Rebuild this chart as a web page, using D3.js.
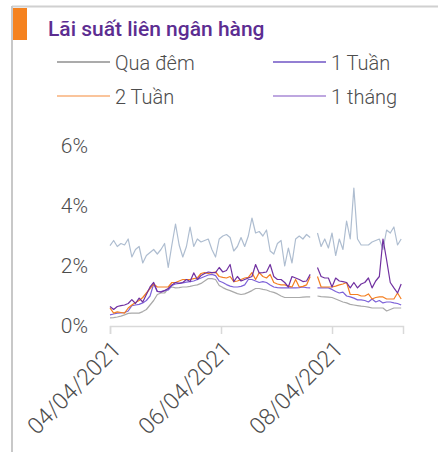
<!DOCTYPE html>
<html>
<head>
<meta charset="utf-8">
<script src="https://cdn.jsdelivr.net/npm/d3@7"></script>
<style>
  html, body { margin: 0; padding: 0; background: #fff; }
  svg { display: block; font-family: Roboto, "Noto Sans", sans-serif; }
</style>
</head>
<body>
<div id="chart"></div>
<script>
// sampled every 2 days from 04/04/2021, null = no data
const startDate = new Date(2021, 3, 4);
const dates = d3.range(81).map(i => d3.timeDay.offset(startDate, 2 * i));

const quaDem = [2.68, 2.85, 2.65, 2.75, 2.7, 2.9, 2.3, 2.55, 2.65, 2.1, 2.35, 2.45, 2.55, 2.4, 2.55, 2.75, 1.95, 2.7, 3.4, 2.7,
  2.3, 2.65, 3.3, 2.65, 2.9, 2.8, 2.85, 2.9, 2.55, 2.3, 2.9, 3.0, 3.05, 2.95, 2.5, 2.65, 2.95, 2.65, 3.0, 3.6,
  3.1, 3.15, 3.0, 3.2, 2.5, 2.4, 2.75, 2.85, 2.0, 2.6, 2.1, 2.9, 3.0, 2.9, 3.05, 2.95, null, 3.1, 2.65, 2.9,
  2.6, 3.1, 2.35, 2.9, 2.55, 3.5, 2.9, 4.6, 2.9, 2.7, 2.7, 2.7, 2.8, 2.85, 2.9, 2.55, 3.2, 3.1, 3.3, 2.7, 2.9];

const motThang = [0.65, 0.55, 0.65, 0.68, 0.7, 0.75, 0.88, 0.75, 0.93, 0.8, 1.05, 1.3, 1.45, 1.15, 1.13, 1.18, 1.25, 1.37, 1.45, 1.42,
  1.45, 1.55, 1.48, 1.77, 1.55, 1.68, 1.75, 1.8, 1.78, 1.78, 1.95, 1.8, 1.85, 2.05, 1.48, 1.65, 1.5, 1.55, 1.6, 1.65,
  2.05, 1.77, 1.78, 1.8, 2.05, 1.65, 1.55, 1.55, 1.45, 1.3, 1.65, 1.6, 1.55, 1.48, 1.5, 1.72, null, 1.95, 1.65, 1.6,
  1.6, 1.3, 1.6, 1.5, 1.48, 1.45, 1.27, 1.45, 1.27, 1.4, 1.45, 1.6, 1.27, 1.5, 1.65, 2.9, 2.2, 1.45, 1.27, 1.1, 1.4];

const haiTuan = [0.6, 0.43, 0.47, 0.45, 0.43, 0.6, 0.7, 0.78, 0.85, 0.95, 1.1, 1.25, 1.4, 1.3, 1.3, 1.3, 1.3, 1.45, 1.45, 1.5,
  1.55, 1.55, 1.55, 1.58, 1.6, 1.75, 1.78, 1.75, 1.78, 1.8, 1.65, 1.62, 1.6, 1.65, 1.48, 1.5, 1.55, 1.6, 1.62, 1.78,
  1.55, 1.78, 1.65, 1.6, 1.72, 1.45, 1.4, 1.37, 1.37, 1.33, 1.3, 1.55, 1.3, 1.32, 1.37, 1.65, null, 1.65, 1.3, 1.3,
  1.3, 1.3, 1.33, 1.37, 1.4, 1.45, 1.05, 1.05, 1.05, 1.0, 1.0, 1.07, 0.9, 0.95, 0.97, 0.97, 0.9, 0.9, 0.9, 1.1, 0.9];

const motTuan = [0.37, 0.4, 0.43, 0.44, 0.45, 0.5, 0.68, 0.7, 0.72, 0.77, 0.85, 1.0, 1.4, 1.15, 1.15, 1.18, 1.2, 1.35, 1.4, 1.42,
  1.44, 1.46, 1.48, 1.5, 1.55, 1.6, 1.65, 1.7, 1.72, 1.68, 1.5, 1.45, 1.38, 1.33, 1.3, 1.3, 1.32, 1.37, 1.55, 1.55,
  1.5, 1.45, 1.48, 1.45, 1.37, 1.3, 1.28, 1.27, 1.27, 1.27, 1.27, 1.27, 1.28, 1.3, 1.28, 1.27, null, 1.27, 1.27, 1.27,
  1.27, 1.22, 1.15, 1.1, 1.13, 1.0, 0.97, 0.93, 0.87, 0.87, 0.85, 0.8, 0.9, 0.8, 0.85, 0.77, 0.8, 0.8, 0.77, 0.75, 0.7];

const baThang = [0.27, 0.28, 0.3, 0.33, 0.37, 0.42, 0.43, 0.43, 0.43, 0.48, 0.55, 0.7, 0.85, 1.05, 1.1, 1.1, 1.25, 1.3, 1.27, 1.28,
  1.3, 1.3, 1.32, 1.35, 1.37, 1.42, 1.5, 1.58, 1.58, 1.55, 1.35, 1.28, 1.22, 1.18, 1.13, 1.08, 1.05, 1.07, 1.12, 1.18,
  1.25, 1.25, 1.22, 1.2, 1.15, 1.12, 1.07, 1.0, 0.95, 0.95, 0.95, 0.95, 0.95, 0.96, 0.97, 0.97, null, 1.0, 0.98, 0.97,
  0.96, 0.95, 0.9, 0.85, 0.8, 0.77, 0.72, 0.7, 0.68, 0.66, 0.65, 0.63, 0.6, 0.6, 0.6, 0.6, 0.5, 0.55, 0.6, 0.6, 0.6];

const yTicks = [0, 2, 4, 6];
const xTickLabels = ["04/04/2021", "06/04/2021", "08/04/2021"];

const legendItems = [
  { name: "Qua đêm", color: "#8f8f8f" },
  { name: "1 Tuần", color: "#6f55c5" },
  { name: "2 Tuần", color: "#f9b07a" },
  { name: "1 tháng", color: "#a98ad6" }
];

const SERIES = [
  { values: quaDem, color: "#aebdd0" },
  { values: baThang, color: "#a9a9a9" },
  { values: motTuan, color: "#7d62d8" },
  { values: haiTuan, color: "#f47f20" },
  { values: motThang, color: "#7030a0" }
];

const WIDTH = 438;
const HEIGHT = 452;

const svg = d3.select("#chart").append("svg")
  .attr("width", WIDTH)
  .attr("height", HEIGHT);

// frame
svg.append("line").attr("x1", 12).attr("x2", WIDTH).attr("y1", 6.5).attr("y2", 6.5)
  .attr("stroke", "#d0d0d0").attr("stroke-width", 2);
svg.append("line").attr("x1", 12).attr("x2", 12).attr("y1", 6).attr("y2", HEIGHT)
  .attr("stroke", "#c8c8c8").attr("stroke-width", 2);
svg.append("rect").attr("x", 13).attr("y", 8).attr("width", 14).attr("height", 32)
  .attr("fill", "#f5821f");

svg.append("text")
  .attr("x", 48).attr("y", 36)
  .attr("fill", "#5c2d91")
  .attr("font-size", 21)
  .attr("font-weight", 500)
  .text("Lãi suất liên ngân hàng");

// legend
const legend = svg.append("g").selectAll("g")
  .data(legendItems)
  .join("g")
  .attr("transform", (d, i) => `translate(${i % 2 === 0 ? 57 : 273},${i < 2 ? 62 : 96})`);

legend.append("line")
  .attr("x1", 0).attr("x2", 53)
  .attr("stroke", d => d.color)
  .attr("stroke-width", 1.5);

legend.append("text")
  .attr("x", 58).attr("y", 8)
  .attr("font-size", 20)
  .attr("font-weight", 300)
  .attr("fill", "#4d4d4d")
  .text(d => d.name);

// scales
const x = d3.scaleTime()
  .domain([startDate, new Date(2021, 8, 12)])
  .range([110, 403]);

const y = d3.scaleLinear()
  .domain([0, 6])
  .range([326, 146]);

const parseTick = d3.timeParse("%m/%d/%Y");

const xAxis = svg.append("g")
  .attr("transform", `translate(0,${y(0)})`)
  .call(d3.axisBottom(x)
    .tickValues(xTickLabels.map(parseTick))
    .tickFormat(d3.timeFormat("%m/%d/%Y"))
    .tickSize(8)
    .tickSizeOuter(8));

xAxis.select(".domain").attr("stroke", "#d9d9d9").attr("stroke-width", 1.5);
xAxis.selectAll(".tick line").attr("stroke", "#d9d9d9").attr("stroke-width", 1.5);
xAxis.selectAll(".tick text")
  .attr("font-size", 23)
  .attr("font-weight", 300)
  .attr("font-family", "Roboto, sans-serif")
  .attr("fill", "#4d4d4d")
  .attr("text-anchor", "end")
  .attr("transform", "translate(6,19) rotate(-45)")
  .attr("dy", "0.35em")
  .attr("y", 0);

const yAxis = svg.append("g")
  .attr("transform", "translate(88,0)")
  .call(d3.axisLeft(y)
    .tickValues(yTicks)
    .tickFormat(d => d + "%")
    .tickSize(0));

yAxis.select(".domain").remove();
yAxis.selectAll(".tick text")
  .attr("font-size", 21)
  .attr("font-weight", 300)
  .attr("font-family", "Roboto, sans-serif")
  .attr("fill", "#4d4d4d")
  .attr("x", 0);

// lines
const line = d3.line()
  .defined(d => d[1] != null)
  .x(d => x(d[0]))
  .y(d => y(d[1]));

svg.append("g")
  .selectAll("path")
  .data(SERIES)
  .join("path")
  .attr("fill", "none")
  .attr("stroke", d => d.color)
  .attr("stroke-width", 1.2)
  .attr("stroke-linejoin", "round")
  .attr("d", d => line(dates.map((dt, i) => [dt, d.values[i]])));
</script>
</body>
</html>
